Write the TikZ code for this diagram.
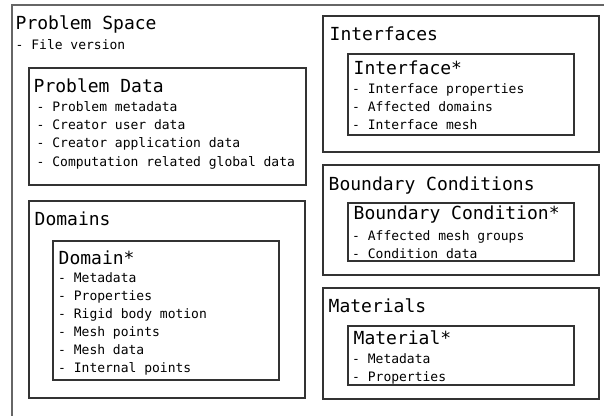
\documentclass[tikz,border=0pt]{standalone}
\usepackage{fontspec}
\setmonofont{DejaVu Sans Mono}
\begin{document}
\begin{tikzpicture}[x=1pt,y=-1pt,
  box/.style={draw=black!80, line width=1.1pt, inner sep=0pt, outer sep=0pt, anchor=north west},
  frame/.style={draw=black!60, line width=1.6pt},
  ttl/.style={font=\ttfamily\fontsize{18}{20}\selectfont, inner sep=0pt, anchor=base west},
  itm/.style={font=\ttfamily\fontsize{13}{15}\selectfont, inner sep=0pt, anchor=base west}]
\useasboundingbox (0,0) rectangle (604,415);

% outer frame of the problem space (runs off the right and bottom edges)
\coordinate (fbl) at (12,416);
\coordinate (ftl) at (12,5);
\coordinate (ftr) at (605,5);
\draw[frame] (fbl) -- (ftl) -- (ftr);

\node[ttl] (pstitle) at (15.5,29) {Problem Space};
\node[itm] (psfile) at (15.5,49) {- File version};

% problem data
\node[box, minimum width=277pt, minimum height=117pt] (pdata) at (29,68) {};
\node[ttl] (pdtitle) at (33.5,92) {Problem Data};
\node[itm] (pd1) at (36.5,111) {- Problem metadata};
\node[itm] (pd2) at (36.5,129.3) {- Creator user data};
\node[itm] (pd3) at (36.5,147.6) {- Creator application data};
\node[itm] (pd4) at (36.5,166) {- Computation related global data};

% domains
\node[box, minimum width=276pt, minimum height=197pt] (doms) at (29,201) {};
\node[ttl] (domstitle) at (34.5,225) {Domains};
\node[box, minimum width=226pt, minimum height=139pt] (dom) at (53,241) {};
\node[ttl] (domtitle) at (58.5,264) {Domain*};
\node[itm] (dm1) at (58,282) {- Metadata};
\node[itm] (dm2) at (58,300) {- Properties};
\node[itm] (dm3) at (58,318) {- Rigid body motion};
\node[itm] (dm4) at (58,336) {- Mesh points};
\node[itm] (dm5) at (58,354) {- Mesh data};
\node[itm] (dm6) at (58,372) {- Internal points};

% interfaces
\node[box, minimum width=276pt, minimum height=136pt] (ifs) at (323,16) {};
\node[ttl] (ifstitle) at (329.5,40) {Interfaces};
\node[box, minimum width=226pt, minimum height=81pt] (ifc) at (348,54) {};
\node[ttl] (ifctitle) at (353.5,74) {Interface*};
\node[itm] (if1) at (352,93) {- Interface properties};
\node[itm] (if2) at (352,111) {- Affected domains};
\node[itm] (if3) at (352,129) {- Interface mesh};

% boundary conditions
\node[box, minimum width=276pt, minimum height=110pt] (bcs) at (323,165) {};
\node[ttl] (bcstitle) at (328.5,190) {Boundary Conditions};
\node[box, minimum width=226pt, minimum height=58pt] (bc) at (348,203) {};
\node[ttl] (bctitle) at (353.5,219) {Boundary Condition*};
\node[itm] (bc1) at (352,240) {- Affected mesh groups};
\node[itm] (bc2) at (352,258) {- Condition data};

% materials
\node[box, minimum width=276pt, minimum height=111pt] (mats) at (323,288) {};
\node[ttl] (matstitle) at (328.5,312) {Materials};
\node[box, minimum width=226pt, minimum height=59pt] (mat) at (348,326) {};
\node[ttl] (mattitle) at (353.5,344) {Material*};
\node[itm] (mt1) at (352,363) {- Metadata};
\node[itm] (mt2) at (352,381) {- Properties};
\end{tikzpicture}
\end{document}
